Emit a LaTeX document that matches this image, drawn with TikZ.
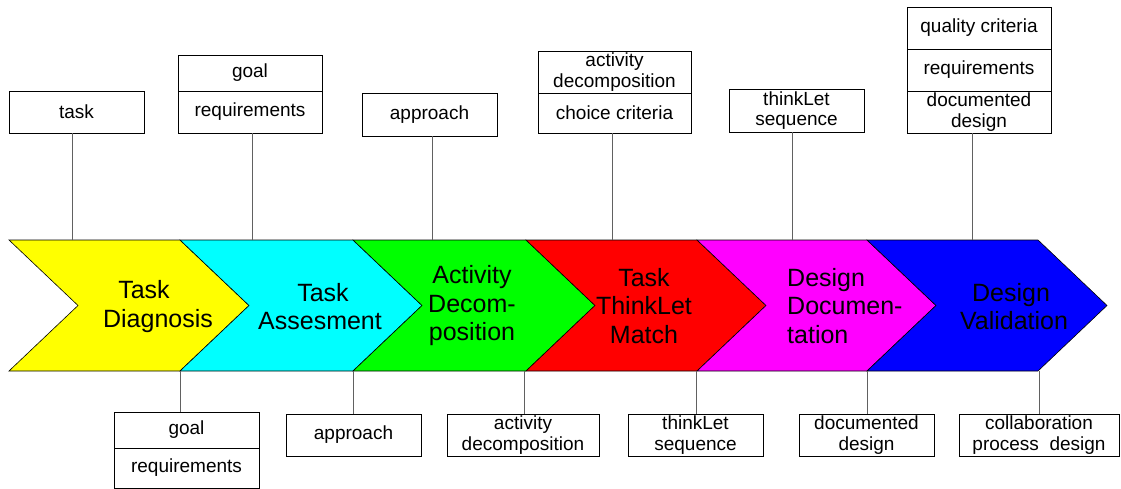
\documentclass[tikz,border=0pt]{standalone}
\usepackage{fontspec}
\setmainfont{Liberation Sans}
\definecolor{stY}{RGB}{255,255,0}
\definecolor{stC}{RGB}{0,255,255}
\definecolor{stG}{RGB}{0,255,0}
\definecolor{stR}{RGB}{255,0,0}
\definecolor{stM}{RGB}{255,0,255}
\definecolor{stB}{RGB}{0,0,255}
\begin{document}
\begin{tikzpicture}[x=1pt,y=-1pt,
  box/.style={draw=black, line width=0.8pt, fill=white, inner sep=0pt, align=center,
    font=\fontsize{19}{20.5}\selectfont},
  stage/.style={draw=black, line width=0.6pt},
  lbl/.style={align=center, inner sep=0pt, font=\fontsize{25}{28.5}\selectfont},
  link/.style={draw=black!62, line width=0.9pt}]
\useasboundingbox (0,0) rectangle (1121,489);

% band corner coordinates
\def\d{69}
\coordinate (k0) at (9,240);
\coordinate (k1) at (180,240);
\coordinate (k2) at (353,240);
\coordinate (k3) at (526,240);
\coordinate (k4) at (697,240);
\coordinate (k5) at (867,240);
\coordinate (k6) at (1038,240);

\foreach \a/\b/\c in {0/1/stY,1/2/stC,2/3/stG,3/4/stR,4/5/stM,5/6/stB}{
  \fill[\c] (k\a) -- (k\b) -- ([xshift=\d pt,yshift=-65.5pt]k\b) -- ([yshift=-131pt]k\b)
     -- ([yshift=-131pt]k\a) -- ([xshift=\d pt,yshift=-65.5pt]k\a) -- cycle;
  \draw[stage] (k\a) -- (k\b) -- ([xshift=\d pt,yshift=-65.5pt]k\b) -- ([yshift=-131pt]k\b)
     -- ([yshift=-131pt]k\a) -- ([xshift=\d pt,yshift=-65.5pt]k\a) -- cycle;
}

% stage labels
\node[lbl] (s1) at (158,306.5) {Task\hspace*{28pt}\null\\Diagnosis};
\node[lbl] (s2) at (320,306.5) {\hspace*{6pt}Task\\Assesment};
\node[lbl] (s3) at (472,306) {Activity\\Decom-\\position};
\node[lbl] (s4) at (644,306) {Task\\ThinkLet\\Match};
\node[lbl, align=left, anchor=west] (s5) at (787,306) {Design\\Documen-\\tation};
\node[lbl] (s6) at (1014,306.5) {Design\hspace*{6pt}\null\\Validation};

% top boxes (inputs)
\node[box, minimum width=135pt, minimum height=42pt] (task) at (76.5,112) {task};
\node[box, minimum width=144pt, minimum height=36pt] (tgoal) at (250,73) {goal};
\node[box, minimum width=144pt, minimum height=42pt] (treq) at (250,112) {requirements};
\node[box, minimum width=135pt, minimum height=43pt] (tapp) at (429.5,114.5) {approach};
\node[box, minimum width=153pt, minimum height=42pt] (tact) at (614.5,72) {activity\\decomposition};
\node[box, minimum width=153pt, minimum height=40pt] (tcho) at (614.5,113) {choice criteria};
\node[box, minimum width=135pt, minimum height=43pt] (tthk) at (796.5,110.5) {thinkLet\\sequence};
\node[box, minimum width=144pt, minimum height=42pt] (tqual) at (979,28) {quality criteria};
\node[box, minimum width=144pt, minimum height=42pt] (treq2) at (979,70) {requirements};
\node[box, minimum width=144pt, minimum height=42pt] (tdoc) at (979,112) {documented\\design};

% bottom boxes (outputs)
\node[box, minimum width=145pt, minimum height=36pt] (bgoal) at (186.5,430) {goal};
\node[box, minimum width=145pt, minimum height=40pt] (breq) at (186.5,468) {requirements};
\node[box, minimum width=135pt, minimum height=42pt] (bapp) at (353.5,435) {approach};
\node[box, minimum width=152pt, minimum height=42pt] (bact) at (523,435) {activity\\decomposition};
\node[box, minimum width=135pt, minimum height=42pt] (bthk) at (695.5,435) {thinkLet\\sequence};
\node[box, minimum width=135pt, minimum height=42pt] (bdoc) at (866.5,435) {documented\\design};
\node[box, minimum width=160pt, minimum height=42pt] (bcol) at (1039,435) {collaboration\\process~ design};

% top connectors
\coordinate (t1) at (72,240);
\coordinate (t2) at (252,240);
\coordinate (t3) at (432,240);
\coordinate (t4) at (612,240);
\coordinate (t5) at (792,240);
\coordinate (t6) at (972,240);
\draw[link] (t1) -- (t1 |- task.south);
\draw[link] (t2) -- (t2 |- treq.south);
\draw[link] (t3) -- (t3 |- tapp.south);
\draw[link] (t4) -- (t4 |- tcho.south);
\draw[link] (t5) -- (t5 |- tthk.south);
\draw[link] (t6) -- (t6 |- tdoc.south);

% bottom connectors
\coordinate (u1) at (180,371);
\coordinate (u2) at (353,371);
\coordinate (u3) at (524,371);
\coordinate (u4) at (696,371);
\coordinate (u5) at (867,371);
\coordinate (u6) at (1039,371);
\draw[link] (u1) -- (u1 |- bgoal.north);
\draw[link] (u2) -- (u2 |- bapp.north);
\draw[link] (u3) -- (u3 |- bact.north);
\draw[link] (u4) -- (u4 |- bthk.north);
\draw[link] (u5) -- (u5 |- bdoc.north);
\draw[link] (u6) -- (u6 |- bcol.north);
\end{tikzpicture}
\end{document}
